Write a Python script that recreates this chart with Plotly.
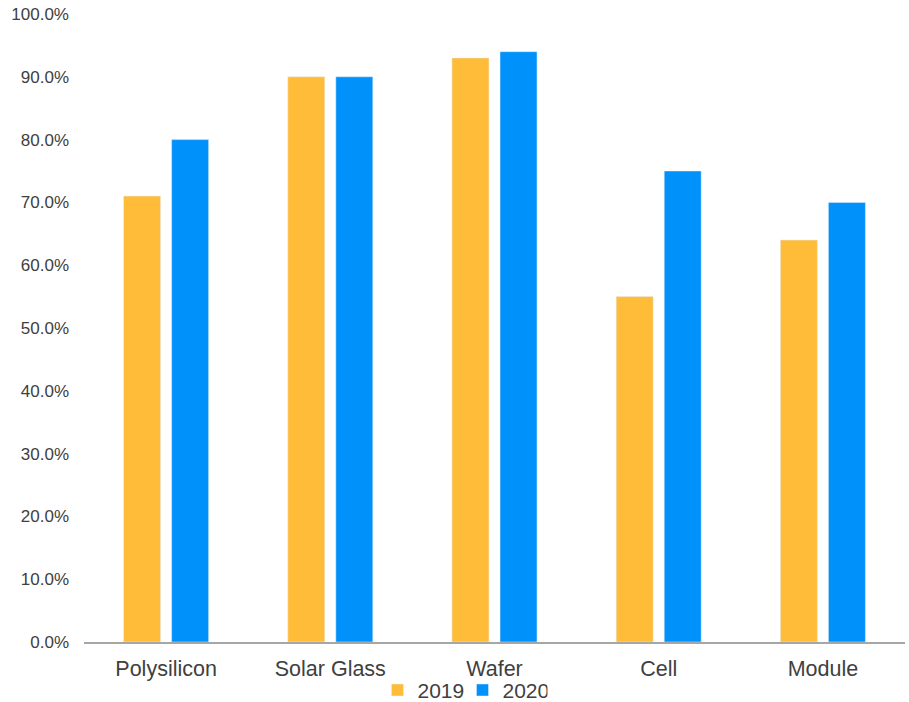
import plotly.graph_objects as go

categories = ["Polysilicon", "Solar Glass", "Wafer", "Cell", "Module"]
share_2019 = [0.71, 0.90, 0.93, 0.55, 0.64]
share_2020 = [0.80, 0.90, 0.94, 0.75, 0.70]

fig = go.Figure()
fig.add_trace(go.Bar(name="2019", x=categories, y=share_2019, marker_color="#FFBC38"))
fig.add_trace(go.Bar(name="2020", x=categories, y=share_2020, marker_color="#0091FA"))

fig.update_layout(
    width=909,
    height=702,
    margin=dict(l=84, r=4, t=14, b=60, autoexpand=False),
    paper_bgcolor="white",
    plot_bgcolor="white",
    barmode="group",
    bargap=0.415,
    bargroupgap=0.23,
    font=dict(family="Liberation Sans, Arial", color="#404040"),
    showlegend=True,
    legend=dict(
        orientation="h",
        x=0.461,
        xanchor="center",
        y=-0.077,
        yanchor="middle",
        bgcolor="rgba(0,0,0,0)",
        font=dict(size=21, color="#404040"),
        itemwidth=30,
        entrywidth=40,
        tracegroupgap=0,
    ),
)
fig.update_xaxes(
    showline=True,
    linecolor="#A6A6A6",
    linewidth=2,
    showgrid=False,
    ticks="",
    ticklabelstandoff=6,
    tickfont=dict(size=21.5, color="#404040"),
)
fig.update_yaxes(
    range=[0, 1.0],
    dtick=0.1,
    tickformat=".1%",
    showgrid=False,
    zeroline=False,
    showline=False,
    ticks="",
    ticklabelstandoff=14,
    tickfont=dict(size=17, color="#404040"),
)

fig.write_html("out.html")
